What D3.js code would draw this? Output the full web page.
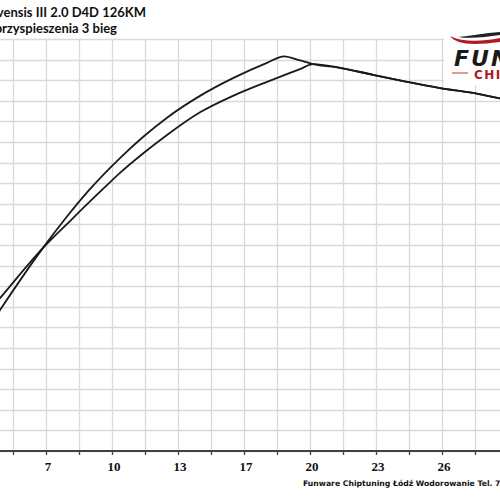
<!DOCTYPE html>
<html><head><meta charset="utf-8">
<script src="https://cdn.jsdelivr.net/npm/d3@7"></script>
<style>html,body{margin:0;padding:0;background:#fff;overflow:hidden}</style>
</head><body>
<script>
// Data (x: axis units, y: relative units 0..100)
const titleLines = ["Toyota Avensis III 2.0 D4D 126KM", "Wykres przyspieszenia 3 bieg"];
const footerText = "Funware Chiptuning Łódź Wodorowanie Tel. 7";
const xTickValues = [6.6, 9.9, 13.2, 16.5, 19.8, 23.1, 26.4];
const xTickLabels = ["7", "10", "13", "17", "20", "23", "26"];
const seriesA_x = [4.0, 4.3, 6.45, 7.6, 8.75, 10.3, 11.45, 12.65, 14.3, 15.95, 17.65, 18.5, 19.3, 19.95, 21.3, 22.95, 24.65, 26.3, 27.95, 29.3, 30.0];
const seriesA_y = [32.0, 34.2, 49.3, 56.6, 63.3, 71.1, 76.2, 80.9, 86.2, 90.5, 94.2, 95.8, 94.8, 93.9, 93.0, 91.3, 89.6, 88.1, 86.9, 85.6, 85.0];
const seriesB_x = [4.0, 4.3, 6.45, 7.9, 9.45, 10.3, 11.45, 12.65, 14.3, 15.95, 17.65, 18.45, 19.3, 19.95, 21.3, 22.95, 24.65, 26.3, 27.95, 29.3, 30.0];
const seriesB_y = [35.4, 37.1, 49.3, 56.3, 63.6, 67.5, 72.2, 76.7, 82.2, 86.2, 89.6, 91.1, 92.7, 93.9, 93.0, 91.3, 89.6, 88.1, 86.9, 85.6, 85.0];

const W = 500, H = 500;
const svg = d3.select("body").append("svg").attr("width", W).attr("height", H);

const x = d3.scaleLinear().domain([4.3, 29.3]).range([0, 500]);
const y = d3.scaleLinear().domain([0, 100]).range([451, 39]);

const gridX = d3.range(0, 19).map(i => 3.3 + i * 1.65);
const gridY = d3.range(0, 21).map(i => i * 5);

const g = svg.append("g");
g.selectAll(".vg").data(gridX).join("line")
  .attr("x1", d => Math.round(x(d)) + 0.5).attr("x2", d => Math.round(x(d)) + 0.5)
  .attr("y1", y(100)).attr("y2", y(0))
  .attr("stroke", "#d9d9d9").attr("stroke-width", 1.3);
g.selectAll(".hg").data(gridY).join("line")
  .attr("x1", -20).attr("x2", 520)
  .attr("y1", d => Math.round(y(d)) + 0.5).attr("y2", d => Math.round(y(d)) + 0.5)
  .attr("stroke", "#d9d9d9").attr("stroke-width", 1.3);

// axis
const xAxis = d3.axisBottom(x).tickValues(gridX).tickSize(4).tickFormat("");
const ax = svg.append("g").attr("transform", "translate(0,451)").call(xAxis);
ax.select(".domain").remove();
ax.selectAll(".tick line").attr("stroke", "#404040").attr("stroke-width", 1.3);
svg.append("line").attr("x1", -10).attr("x2", 510).attr("y1", 451).attr("y2", 451)
  .attr("stroke", "#404040").attr("stroke-width", 2.2);
svg.selectAll(".xl").data(xTickValues).join("text")
  .attr("x", d => x(d) + 2).attr("y", 471)
  .attr("text-anchor", "middle")
  .attr("font-family", "Liberation Serif, serif").attr("font-weight", "bold")
  .attr("font-size", 13).attr("fill", "#111")
  .text((d, i) => xTickLabels[i]);

// lines
const line = d3.line().x(d => x(d[0])).y(d => y(d[1])).curve(d3.curveMonotoneX);
const dataA = seriesA_x.map((v, i) => [v, seriesA_y[i]]);
const dataB = seriesB_x.map((v, i) => [v, seriesB_y[i]]);
[dataB, dataA].forEach(dt => {
  svg.append("path").datum(dt).attr("d", line)
    .attr("fill", "none").attr("stroke", "#1a1a1a").attr("stroke-width", 1.8)
    .attr("stroke-linejoin", "round");
});

// logo
const lg = svg.append("g");
lg.append("rect").attr("x", 444).attr("y", 27).attr("width", 60).attr("height", 58).attr("fill", "#fff");
lg.append("path").attr("d", "M450,36 C456,44 470,46 500,42 L500,38 C480,42 462,42 450,36 Z").attr("fill", "#b01a24");
lg.append("path").attr("d", "M458,37 C470,36 485,33 500,32 L500,35 C485,37 472,39 458,37 Z").attr("fill", "#222");
lg.append("text").attr("x", 454).attr("y", 66).attr("font-family", "DejaVu Sans, sans-serif")
  .attr("font-weight", "bold").attr("font-style", "italic").attr("font-size", 22).attr("letter-spacing", 2)
  .attr("fill", "#1a1a1a").text("FUNWARE");
lg.append("line").attr("x1", 452).attr("x2", 468).attr("y1", 73).attr("y2", 73).attr("stroke", "#c0392b").attr("stroke-width", 1);
lg.append("text").attr("x", 474).attr("y", 78.5).attr("font-family", "DejaVu Sans, sans-serif")
  .attr("font-weight", "bold").attr("font-size", 12).attr("letter-spacing", 1.5).attr("fill", "#b01a24").text("CHIPTUNING");

// titles
svg.append("text").attr("x", 146).attr("y", 17).attr("text-anchor", "end")
  .attr("font-family", "Lato, sans-serif").attr("font-weight", "bold").attr("font-size", 13).attr("fill", "#111")
  .text(titleLines[0]);
svg.append("text").attr("x", 117).attr("y", 33).attr("text-anchor", "end")
  .attr("font-family", "Lato, sans-serif").attr("font-weight", "bold").attr("font-size", 13).attr("fill", "#111")
  .text(titleLines[1]);

// footer
svg.append("text").attr("x", 303).attr("y", 486)
  .attr("font-family", "DejaVu Sans, sans-serif").attr("font-weight", "bold").attr("font-size", 7.7).attr("fill", "#111")
  .text(footerText);
</script>
</body></html>
